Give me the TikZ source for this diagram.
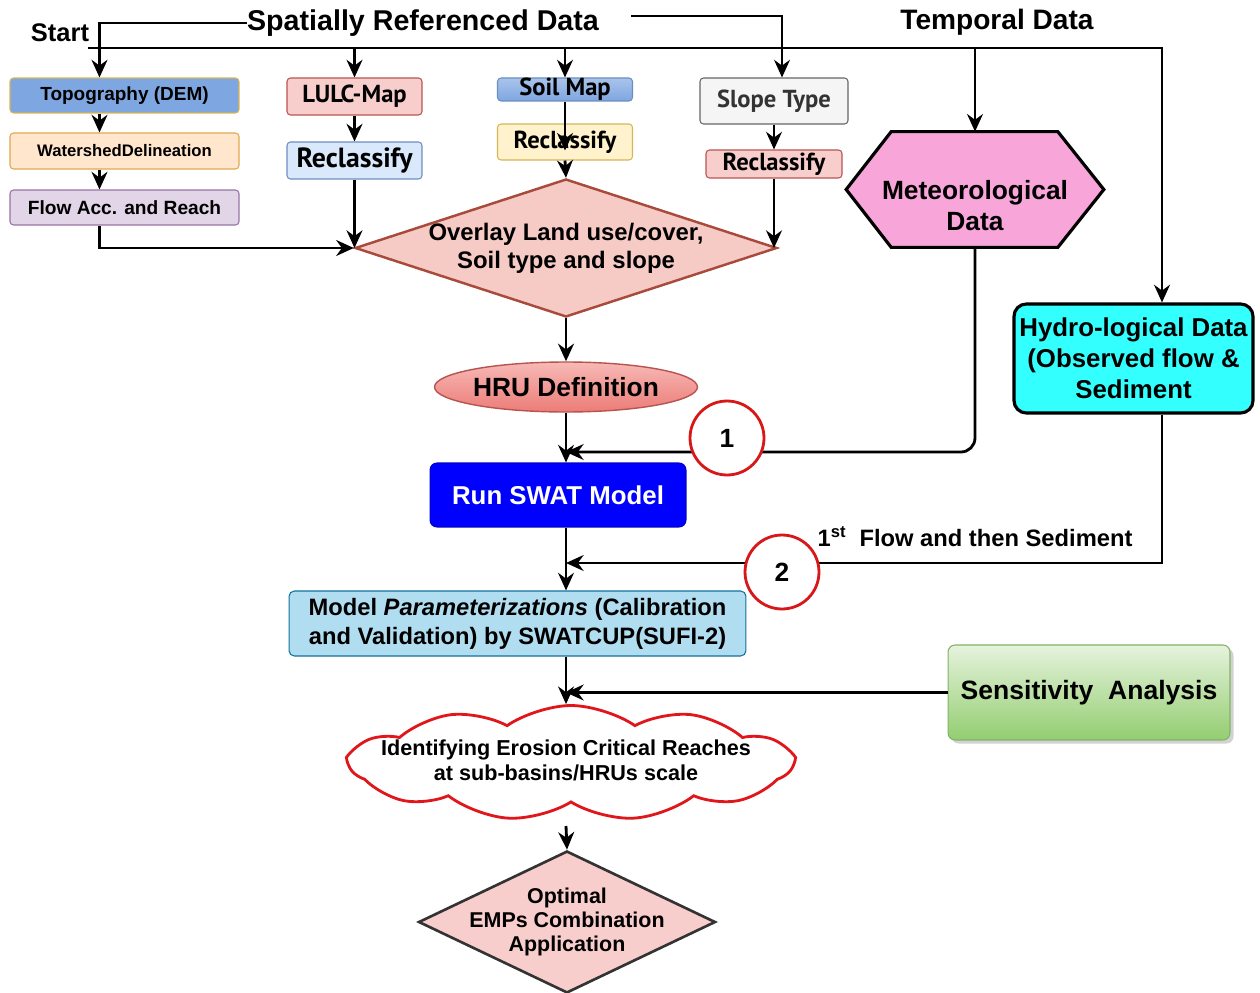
\documentclass[tikz,border=0pt]{standalone}
\usepackage{fontspec}
\setmainfont{Liberation Sans}
\newfontfamily\ptsans{PT Sans}
\usetikzlibrary{arrows.meta,calc,shapes.geometric,shapes.symbols,shadows}

\definecolor{topoFill}{HTML}{7EA6E0}
\definecolor{topoLine}{HTML}{D6B656}
\definecolor{wsFill}{HTML}{FFE6CC}
\definecolor{wsLine}{HTML}{E0A850}
\definecolor{flowFill}{HTML}{E1D5E7}
\definecolor{flowLine}{HTML}{9673A6}
\definecolor{redFill}{HTML}{F8CECC}
\definecolor{redLine}{HTML}{B85450}
\definecolor{blueFill}{HTML}{DAE8FC}
\definecolor{blueLine}{HTML}{6C8EBF}
\definecolor{soilTop}{HTML}{A9C4EB}
\definecolor{yelFill}{HTML}{FFF2CC}
\definecolor{yelLine}{HTML}{D6B656}
\definecolor{grayFill}{HTML}{F5F5F5}
\definecolor{grayLine}{HTML}{666666}
\definecolor{grayText}{HTML}{333333}
\definecolor{ovFill}{HTML}{F6CBC5}
\definecolor{ovLine}{HTML}{A84A3C}
\definecolor{hruTop}{HTML}{F7B9B6}
\definecolor{hruBot}{HTML}{EC7C77}
\definecolor{metFill}{HTML}{F8A5DA}
\definecolor{hydroFill}{HTML}{33FFFF}
\definecolor{runFill}{HTML}{0000FF}
\definecolor{runLine}{HTML}{0000C8}
\definecolor{modelFill}{HTML}{B1DDF0}
\definecolor{modelLine}{HTML}{10739E}
\definecolor{sensTop}{HTML}{E6F3DD}
\definecolor{sensBot}{HTML}{93CD70}
\definecolor{sensLine}{HTML}{82B366}
\definecolor{cloudLine}{HTML}{E0161B}
\definecolor{circLine}{HTML}{D81818}
\definecolor{optLine}{HTML}{333333}

\begin{document}
\begin{tikzpicture}[x=0.02cm, y=-0.02cm,
  link/.style={line width=1.6pt},
  arr/.style={line width=1.6pt, -{Stealth[length=10pt,width=9pt]}},
  box/.style={draw, line width=0.6pt, rounded corners=2pt, inner sep=0pt, align=center},
  heading/.style={inner sep=0pt, font={\bfseries\fontsize{16.3}{19}\selectfont}},
  txt/.style={inner sep=0pt, align=center},
  marker/.style={circle, draw=circLine, line width=1.6pt, fill=white, minimum size=1.48cm, inner sep=0pt,
                 font={\bfseries\fontsize{15}{18}\selectfont}}
]
% canvas
\fill[white] (0,0) rectangle (1260,993);
\useasboundingbox (0,0) rectangle (1260,993);

% headings
\node[heading, font={\bfseries\fontsize{14.5}{17}\selectfont}] (start) at (60,33) {Start};
\node[heading] (spatial) at (423,23) {Spatially Referenced Data};
\node[heading, font={\bfseries\fontsize{16}{19}\selectfont}] (temporal) at (997,22) {Temporal Data};

% left column: terrain processing
\node[box, fill=topoFill, draw=topoLine, minimum width=4.58cm, minimum height=0.70cm,
      font={\bfseries\fontsize{10.8}{13}\selectfont}] (topo) at (124.5,95.5) {Topography (DEM)};
\node[box, fill=wsFill, draw=wsLine, minimum width=4.58cm, minimum height=0.72cm,
      font={\bfseries\fontsize{9.5}{12}\selectfont}] (wshed) at (124.5,151) {WatershedDelineation};
\node[box, fill=flowFill, draw=flowLine, minimum width=4.58cm, minimum height=0.70cm,
      font={\bfseries\fontsize{10.9}{13}\selectfont}] (flow) at (124.5,207.5) {Flow Acc. and Reach};

% land use column
\node[box, fill=redFill, draw=redLine, minimum width=2.70cm, minimum height=0.74cm,
      font={\ptsans\bfseries\fontsize{14}{17}\selectfont}] (lulc) at (354.5,96.5) {LULC-Map};
\node[box, fill=blueFill, draw=blueLine, minimum width=2.70cm, minimum height=0.74cm,
      font={\ptsans\bfseries\fontsize{15.8}{19}\selectfont}] (recl1) at (354.5,160.5) {Reclassify};

% soil column
\node[box, top color=soilTop, bottom color=topoFill, draw=blueLine, minimum width=2.70cm, minimum height=0.46cm,
      font={\ptsans\bfseries\fontsize{14}{17}\selectfont}] (soil) at (565,89.5) {Soil Map};
\node[box, fill=yelFill, draw=yelLine, minimum width=2.70cm, minimum height=0.72cm,
      font={\ptsans\bfseries\fontsize{14}{17}\selectfont}] (recl2) at (565,142) {Reclassify};

% slope column
\node[box, fill=grayFill, draw=grayLine, text=grayText, minimum width=2.96cm, minimum height=0.92cm,
      font={\ptsans\bfseries\fontsize{14}{17}\selectfont}] (slope) at (774,101) {Slope Type};
\node[box, fill=redFill, draw=redLine, minimum width=2.72cm, minimum height=0.56cm,
      font={\ptsans\bfseries\fontsize{14}{17}\selectfont}] (recl3) at (774,164) {Reclassify};

% overlay decision
\node[diamond, draw=ovLine, fill=ovFill, line width=1.4pt, minimum width=8.44cm, minimum height=2.76cm,
      inner sep=0pt] (overlay) at (566,248) {};
\node[txt, font={\bfseries\fontsize{13.6}{16}\selectfont}] (overlaytxt) at (overlay.center)
      {Overlay Land use/cover,\\Soil type and slope};

% HRU definition
\node[ellipse, draw=redLine, line width=0.8pt, top color=hruTop, bottom color=hruBot,
      minimum width=5.04cm, minimum height=1.00cm, inner sep=0pt,
      font={\bfseries\fontsize{15}{18}\selectfont}] (hru) at (566,387) {HRU Definition};

% SWAT run
\node[box, fill=runFill, draw=runLine, text=white, rounded corners=4pt, minimum width=5.12cm, minimum height=1.28cm,
      font={\bfseries\fontsize{14.7}{18}\selectfont}] (run) at (558,495) {Run SWAT Model};

% meteorological data (hexagon)
\node[minimum width=5.14cm, minimum height=2.30cm, inner sep=0pt] (met) at (975,189.5) {};
\draw[fill=metFill, line width=1.8pt, line join=miter]
  (met.west) -- ($(met.north west)+(45,0)$) -- ($(met.north east)+(-46,0)$) -- (met.east)
  -- ($(met.south east)+(-46,0)$) -- ($(met.south west)+(45,0)$) -- cycle;
\node[txt, font={\bfseries\fontsize{15}{17.6}\selectfont}] (mettxt) at (975,206) {Meteorological\\Data};

% hydrological data
\node[box, fill=hydroFill, draw=black, line width=1.8pt, rounded corners=7pt, minimum width=4.78cm, minimum height=2.18cm,
      font={\bfseries\fontsize{14.7}{17.6}\selectfont}] (hydro) at (1133.5,358.5)
      {Hydro-logical Data\\(Observed flow \&\\Sediment};

% calibration
\node[box, fill=modelFill, draw=modelLine, rounded corners=3pt, minimum width=9.14cm, minimum height=1.30cm,
      font={\bfseries\fontsize{13.5}{16.4}\selectfont}] (model) at (517.5,623.5)
      {Model \textit{Parameterizations} (Calibration\\and Validation) by SWATCUP(SUFI-2)};

% sensitivity analysis
\node[box, draw=sensLine, top color=sensTop, bottom color=sensBot, rounded corners=4pt,
      minimum width=5.64cm, minimum height=1.90cm,
      drop shadow={opacity=0.35, shadow xshift=2pt, shadow yshift=-2pt},
      font={\bfseries\fontsize{15.1}{18}\selectfont}] (sens) at (1089,692.5) {Sensitivity\ \ Analysis};

% erosion critical reaches
\node[cloud, draw=cloudLine, fill=white, line width=1.6pt, cloud puffs=11, cloud puff arc=70, aspect=3.8,
      minimum width=8.85cm, minimum height=2.30cm, inner sep=0pt] (cloud) at (571,763) {};
\node[txt, font={\bfseries\fontsize{12.3}{14.2}\selectfont}] (cloudtxt) at (566,760)
      {Identifying Erosion Critical Reaches\\at sub-basins/HRUs scale};

% final decision
\node[diamond, draw=optLine, fill=redFill, line width=1.5pt, minimum width=5.94cm, minimum height=2.84cm,
      inner sep=0pt] (optimal) at (567,922) {};
\node[txt, font={\bfseries\fontsize{12.2}{13.9}\selectfont}] (opttxt) at (optimal.center)
      {Optimal\\EMPs Combination\\Application};

% helper coordinates
\coordinate (sp) at (566,0);
\coordinate (busW) at (88,48);
\coordinate (busE) at (1162,48);
\coordinate (tin) at ($(topo.north west)+(90,0)$);
\coordinate (j1) at (566,452);
\coordinate (j2) at (566,563);
\coordinate (cbot) at (566,826);

% data distribution lines
\draw[arr] (spatial.west) -| (tin);
\draw[arr] ($(spatial.east)+(32,-7)$) -| ($(slope.north)+(8,0)$);
\draw[arr] (busW) -- (busE) -- (busE |- hydro.north);
\draw[arr] (lulc.north |- busW) -- (lulc.north);
\draw[arr] (soil.north |- busW) -- (soil.north);
\draw[arr] (met.north |- busW) -- (met.north);

% terrain chain
\draw[arr] ($(topo.south west)+(90,0)$) -- ($(wshed.north west)+(90,0)$);
\draw[arr] ($(wshed.south west)+(90,0)$) -- ($(flow.north west)+(90,0)$);
\draw[arr] ($(flow.south west)+(90,0)$) |- (overlay.west);

% reclassification chains
\draw[arr] (lulc.south) -- (recl1.north);
\draw[arr] (recl1.south) -- (recl1.south |- overlay.west);
\draw[arr] (soil.south) -- ($(recl2.south)+(0,-10)$);
\draw[arr] (recl2.south) -- (overlay.north);
\draw[arr] (slope.south) -- (recl3.north);
\draw[arr] (recl3.south) -- (recl3.south |- overlay.east);

% main sequence
\draw[arr] (overlay.south) -- (hru.north);
\draw[arr] (hru.south) -- (hru.south |- run.north);
\draw[arr, rounded corners=8pt] (met.south) |- (j1);
\draw[arr] (run.south -| sp) -- (model.north -| sp);
\draw[arr] (busE |- hydro.south) |- (j2);
\draw[arr] (model.south -| sp) -- (cloud.north -| sp);
\draw[arr] (sens.west) -- (sens.west -| sp);
\draw[arr] (cbot) -- (optimal.north);

% step markers and label
\node[marker] (m1) at (727,438) {1};
\node[marker] (m2) at (782,572) {2};
\node[txt, font={\bfseries\fontsize{13.5}{16}\selectfont}] (flowlbl) at (975,537)
      {1\textsuperscript{st}\ \ Flow and then Sediment};
\end{tikzpicture}
\end{document}
